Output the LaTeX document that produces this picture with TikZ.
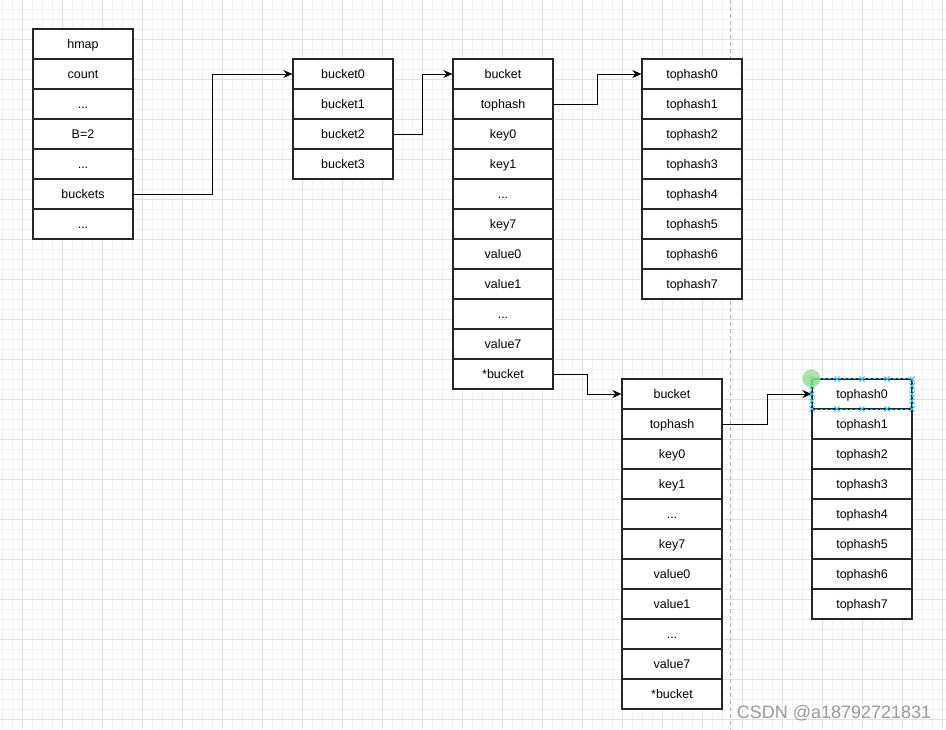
\documentclass[tikz,border=0pt]{standalone}
\usepackage{fontspec}
\setmainfont{Liberation Sans}
\usetikzlibrary{arrows.meta}
\definecolor{gridminor}{HTML}{F1F1F1}
\definecolor{gridmajor}{HTML}{E0E0E0}
\definecolor{selblue}{HTML}{29B6F2}
\definecolor{selgreen}{HTML}{8EE08E}
\newcommand\etc{...}
\tikzset{
  cell/.style={draw=black!85, fill=white, line width=1.2pt, minimum width=100pt,
    minimum height=30pt, inner sep=0pt, text height=9pt, text depth=0pt,
    font=\fontsize{12.5}{14}\selectfont},
  link/.style={line width=1pt, -{Stealth[length=9pt,width=8pt]}},
  selmark/.style={selblue, line width=0.8pt},
}
\begin{document}
\begin{tikzpicture}[x=1pt,y=-1pt]
  \useasboundingbox (0,0) rectangle (946,729);
  \fill[white] (0,0) rectangle (946,729);
  % background grid
  \foreach \x in {2,12,...,942} \draw[gridminor, line width=0.8pt] (\x,0) -- (\x,729);
  \foreach \y in {9,19,...,729} \draw[gridminor, line width=0.8pt] (0,\y) -- (946,\y);
  \foreach \x in {22,62,...,942} \draw[gridmajor, line width=0.8pt] (\x,0) -- (\x,729);
  \foreach \y in {39,79,...,729} \draw[gridmajor, line width=0.8pt] (0,\y) -- (946,\y);
  \draw[gray!60, line width=0.8pt, dash pattern=on 4pt off 3pt] (730,0) -- (730,729);

  % hmap
  \foreach \t [count=\i] in {hmap,count,\etc,B=2,\etc,buckets,\etc}
    \node[cell] (a\i) at (83,14+30*\i) {\t};
  % buckets array
  \foreach \i in {0,...,3}
    \node[cell] (b\i) at (343,74+30*\i) {bucket\i};
  % first bucket
  \foreach \t [count=\i] in {bucket,tophash,key0,key1,\etc,key7,value0,value1,\etc,value7,*bucket}
    \node[cell] (c\i) at (503,44+30*\i) {\t};
  \foreach \i in {0,...,7}
    \node[cell] (d\i) at (692,74+30*\i) {tophash\i};
  % overflow bucket
  \foreach \t [count=\i] in {bucket,tophash,key0,key1,\etc,key7,value0,value1,\etc,value7,*bucket}
    \node[cell] (e\i) at (672,364+30*\i) {\t};
  \foreach \i in {0,...,7}
    \node[cell] (f\i) at (862,394+30*\i) {tophash\i};

  \draw[link] (a6.east) -- ++(79,0) |- (b0.west);
  \draw[link] (b2.east) -- ++(29,0) |- (c1.west);
  \draw[link] (c2.east) -- ++(44,0) |- (d0.west);
  \draw[link] (c11.east) -- ++(34,0) |- (e1.west);
  \draw[link] (e2.east) -- ++(45,0) |- (f0.west);

  % selection handles
  \draw[selblue, line width=0.8pt, dash pattern=on 3pt off 2pt] (f0.north west) rectangle (f0.south east);
  \foreach \x in {812,837,862,887,912}
    \foreach \y in {379,409}
      \draw[selmark] (\x-2.5,\y-2.5) -- (\x+2.5,\y+2.5) (\x-2.5,\y+2.5) -- (\x+2.5,\y-2.5);
  \foreach \x in {812,912}
    \foreach \y in {386,394,401}
      \draw[selmark] (\x-2.5,\y-2.5) -- (\x+2.5,\y+2.5) (\x-2.5,\y+2.5) -- (\x+2.5,\y-2.5);
  \fill[selgreen, opacity=0.8] (f0.north west) circle (9);

  \node[gray!80, font=\fontsize{18}{20}\selectfont] (mark) at (834,713) {CSDN @a18792721831};
\end{tikzpicture}
\end{document}
